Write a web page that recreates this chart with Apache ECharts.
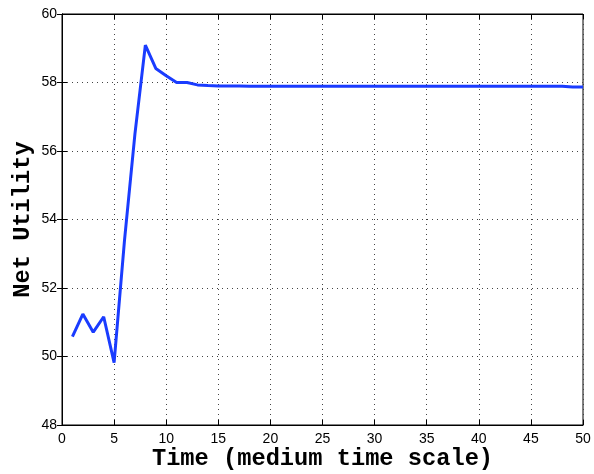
<!DOCTYPE html>
<html>
<head>
<meta charset="utf-8">
<script src="https://cdn.jsdelivr.net/npm/echarts@6/dist/echarts.min.js"></script>
<style>
  html, body { margin: 0; padding: 0; background: #fff; }
  #chart { width: 594px; height: 474px; }
</style>
</head>
<body>
<div id="chart"></div>
<script>
// data
const timeSteps = Array.from({ length: 50 }, (_, i) => i + 1);
const netUtility = [
  50.58, 51.24, 50.71, 51.16, 49.82, 53.4, 56.5, 59.09, 58.41, 58.2,
  58.0, 58.0, 57.93, 57.91, 57.9, 57.9, 57.9, 57.89, 57.89, 57.89,
  57.89, 57.89, 57.89, 57.89, 57.89, 57.89, 57.89, 57.89, 57.89, 57.89,
  57.89, 57.89, 57.89, 57.89, 57.89, 57.89, 57.89, 57.89, 57.89, 57.89,
  57.89, 57.89, 57.89, 57.89, 57.89, 57.89, 57.89, 57.89, 57.87, 57.87
];
const xTicks = { min: 0, max: 50, interval: 5 };
const yTicks = { min: 48, max: 60, interval: 2 };

const chart = echarts.init(document.getElementById("chart"), null, { renderer: "canvas" });

const tickFont = { color: "#000", fontFamily: "Liberation Sans, Arial, sans-serif", fontSize: 14 };
const titleFont = { color: "#000", fontFamily: "Liberation Mono, Courier New, monospace", fontSize: 23.7, fontWeight: "bold" };
const gridLine = { show: true, lineStyle: { color: "#444", type: [1, 4], width: 1 } };
const inTick = { show: true, inside: true, length: 5, lineStyle: { color: "#000" } };
const axisLine = { show: true, lineStyle: { color: "#000", width: 1 } };

chart.setOption({
  animation: false,
  backgroundColor: "#fff",
  grid: {
    left: 62, right: 11, top: 14, bottom: 49,
    outerBoundsMode: "none", containLabel: false,
    show: true, borderColor: "#000", borderWidth: 1
  },
  xAxis: [
    {
      type: "value", ...xTicks, position: "bottom",
      name: "Time (medium time scale)", nameLocation: "middle", nameGap: 22, nameMoveOverlap: false,
      nameTextStyle: titleFont,
      axisLine, axisTick: inTick, splitLine: gridLine,
      axisLabel: { ...tickFont, margin: 7 }
    },
    {
      type: "value", ...xTicks, position: "top",
      axisLine, axisTick: inTick, splitLine: { show: false }, axisLabel: { show: false }
    }
  ],
  yAxis: [
    {
      type: "value", ...yTicks, position: "left",
      name: "Net Utility", nameLocation: "middle", nameGap: 27, nameRotate: 90, nameMoveOverlap: false,
      nameTextStyle: titleFont,
      axisLine, axisTick: inTick, splitLine: gridLine,
      axisLabel: { ...tickFont, margin: 5 }
    },
    {
      type: "value", ...yTicks, position: "right",
      axisLine, axisTick: inTick, splitLine: { show: false }, axisLabel: { show: false }
    }
  ],
  series: [{
    type: "line",
    data: timeSteps.map((t, i) => [t, netUtility[i]]),
    showSymbol: false,
    lineStyle: { color: "#1a3cff", width: 3 },
    itemStyle: { color: "#1a3cff" }
  }]
});
</script>
</body>
</html>
